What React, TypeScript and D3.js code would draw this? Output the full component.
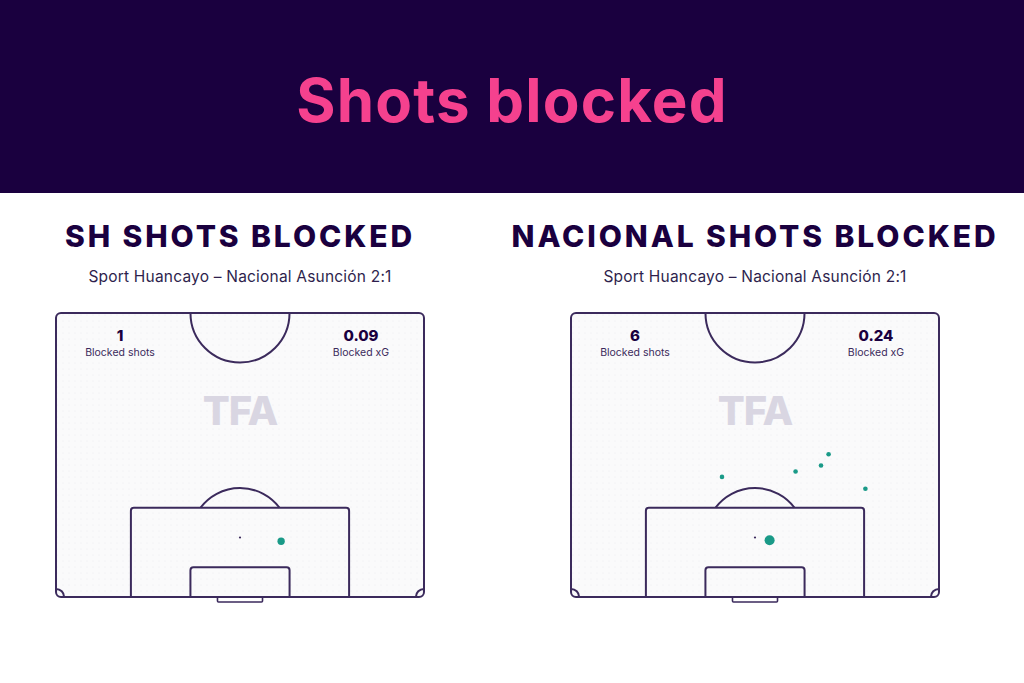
import React, { useEffect, useRef } from "react";
import * as d3 from "d3";

// pitch is a half pitch: 68m wide, 52.5m from halfway line to goal line
const PITCH_W = 68;
const PITCH_L = 52.5;

const teams = ["SH", "NACIONAL"];
const matchLabel = "Sport Huancayo – Nacional Asunción 2:1";
const blockedShots = [1, 6];
const blockedXG = ["0.09", "0.24"];

// shot locations: x across pitch (m), y distance from goal line (m), xg
const shotsSH = [{ x: 41.6, y: 10.3, xg: 0.09 }];
const shotsNAC = [
  { x: 27.9, y: 22.2, xg: 0.016 },
  { x: 41.5, y: 23.2, xg: 0.016 },
  { x: 46.2, y: 24.3, xg: 0.016 },
  { x: 47.6, y: 26.4, xg: 0.016 },
  { x: 54.4, y: 20.0, xg: 0.016 },
  { x: 36.7, y: 10.5, xg: 0.16 },
];
const shotSets = [shotsSH, shotsNAC];

const NAVY = "#1a003f";
const LINE = "#3b2a5c";
const TEAL = "#1a9a88";
const FONT = "Inter, 'Noto Sans', sans-serif";

export default function App() {
  const svgRef = useRef<SVGSVGElement>(null);

  useEffect(() => {
    const width = 1024;
    const height = 683;
    const svg = d3.select(svgRef.current);
    svg.selectAll("*").remove();
    svg.attr("viewBox", `0 0 ${width} ${height}`);

    const defs = svg.append("defs");
    const pat = defs
      .append("pattern")
      .attr("id", "dots")
      .attr("width", 6)
      .attr("height", 6)
      .attr("patternUnits", "userSpaceOnUse");
    pat.append("rect").attr("width", 6).attr("height", 6).attr("fill", "#fafafb");
    pat.append("circle").attr("cx", 3).attr("cy", 3).attr("r", 0.6).attr("fill", "#ececf0");

    svg.append("rect").attr("width", width).attr("height", height).attr("fill", "#ffffff");
    svg.append("rect").attr("width", width).attr("height", 193).attr("fill", NAVY);
    svg
      .append("text")
      .attr("x", width / 2)
      .attr("y", 122)
      .attr("text-anchor", "middle")
      .attr("font-family", FONT)
      .attr("font-weight", 700)
      .attr("font-size", 60)
      .attr("letter-spacing", 1.2)
      .attr("fill", "#f5418e")
      .text("Shots blocked");

    const pitchLeft = [56, 571];
    const pitchTop = 313;
    const pitchBottom = 597;
    const pxW = 368;

    teams.forEach((team, i) => {
      const x0 = pitchLeft[i];
      const cx = x0 + pxW / 2;
      const x = d3.scaleLinear().domain([0, PITCH_W]).range([x0, x0 + pxW]);
      const y = d3.scaleLinear().domain([0, PITCH_L]).range([pitchBottom, pitchTop]);
      const k = pxW / PITCH_W;
      const g = svg.append("g");

      g.append("text")
        .attr("x", cx)
        .attr("y", 247)
        .attr("text-anchor", "middle")
        .attr("font-family", FONT)
        .attr("font-weight", 800)
        .attr("font-size", 30)
        .attr("letter-spacing", 2.9)
        .attr("fill", NAVY)
        .text(`${team} SHOTS BLOCKED`);

      g.append("text")
        .attr("x", cx)
        .attr("y", 282)
        .attr("text-anchor", "middle")
        .attr("font-family", FONT)
        .attr("font-size", 15.5)
        .attr("letter-spacing", 0.2)
        .attr("fill", "#2e1f4d")
        .text(matchLabel);

      // clip for pitch
      const clipId = `clip${i}`;
      defs
        .append("clipPath")
        .attr("id", clipId)
        .append("rect")
        .attr("x", x(0))
        .attr("y", y(PITCH_L))
        .attr("width", x(PITCH_W) - x(0))
        .attr("height", y(0) - y(PITCH_L));

      g.append("rect")
        .attr("x", x(0))
        .attr("y", y(PITCH_L))
        .attr("width", x(PITCH_W) - x(0))
        .attr("height", y(0) - y(PITCH_L))
        .attr("rx", 5)
        .attr("fill", "url(#dots)");

      const lines = g
        .append("g")
        .attr("fill", "none")
        .attr("stroke", LINE)
        .attr("stroke-width", 2);

      // centre circle
      lines
        .append("circle")
        .attr("clip-path", `url(#${clipId})`)
        .attr("cx", x(PITCH_W / 2))
        .attr("cy", y(PITCH_L))
        .attr("r", 9.15 * k);

      // penalty arc
      const spotY = y(11);
      const boxTop = y(16.5);
      const dy = spotY - boxTop;
      const r = 9.15 * k;
      const dx = Math.sqrt(r * r - dy * dy);
      lines
        .append("path")
        .attr(
          "d",
          `M${x(PITCH_W / 2) - dx},${boxTop} A${r},${r} 0 0 1 ${x(PITCH_W / 2) + dx},${boxTop}`
        );

      // penalty box
      const pb0 = x(PITCH_W / 2 - 20.16);
      const pb1 = x(PITCH_W / 2 + 20.16);
      lines
        .append("path")
        .attr("d", `M${pb0},${y(0)} V${boxTop + 3} Q${pb0},${boxTop} ${pb0 + 3},${boxTop} H${pb1 - 3} Q${pb1},${boxTop} ${pb1},${boxTop + 3} V${y(0)}`);

      // six yard box
      const sb0 = x(PITCH_W / 2 - 9.16);
      const sb1 = x(PITCH_W / 2 + 9.16);
      const sTop = y(5.5);
      lines
        .append("path")
        .attr("d", `M${sb0},${y(0)} V${sTop + 3} Q${sb0},${sTop} ${sb0 + 3},${sTop} H${sb1 - 3} Q${sb1},${sTop} ${sb1},${sTop + 3} V${y(0)}`);

      // goal
      const g0 = x(PITCH_W / 2 - 3.66 - 0.5);
      const g1 = x(PITCH_W / 2 + 3.66 + 0.5);
      lines
        .append("path")
        .attr("stroke-width", 1.6)
        .attr("d", `M${g0},${y(0)} V${y(0) + 4} Q${g0},${y(0) + 5} ${g0 + 1},${y(0) + 5} H${g1 - 1} Q${g1},${y(0) + 5} ${g1},${y(0) + 4} V${y(0)}`);

      // corner arcs
      const cr = 1.5 * k;
      lines
        .append("path")
        .attr("d", `M${x(0)},${y(0) - cr} A${cr},${cr} 0 0 1 ${x(0) + cr},${y(0)}`);
      lines
        .append("path")
        .attr("d", `M${x(PITCH_W) - cr},${y(0)} A${cr},${cr} 0 0 1 ${x(PITCH_W)},${y(0) - cr}`);

      // outer boundary
      lines
        .append("rect")
        .attr("x", x(0))
        .attr("y", y(PITCH_L))
        .attr("width", x(PITCH_W) - x(0))
        .attr("height", y(0) - y(PITCH_L))
        .attr("rx", 5);

      // penalty spot
      g.append("circle")
        .attr("cx", x(PITCH_W / 2))
        .attr("cy", spotY)
        .attr("r", 1.1)
        .attr("fill", LINE);

      // watermark
      g.append("text")
        .attr("x", x(PITCH_W / 2))
        .attr("y", 425)
        .attr("text-anchor", "middle")
        .attr("font-family", FONT)
        .attr("font-weight", 800)
        .attr("font-size", 40)
        .attr("letter-spacing", -1)
        .attr("fill", "#d9d6e2")
        .text("TFA");

      // stats
      [
        { cxp: x0 + 64, val: String(blockedShots[i]), label: "Blocked shots" },
        { cxp: x0 + 305, val: blockedXG[i], label: "Blocked xG" },
      ].forEach((s) => {
        g.append("text")
          .attr("x", s.cxp)
          .attr("y", 341)
          .attr("text-anchor", "middle")
          .attr("font-family", FONT)
          .attr("font-weight", 800)
          .attr("font-size", 15)
          .attr("fill", NAVY)
          .text(s.val);
        g.append("text")
          .attr("x", s.cxp)
          .attr("y", 356)
          .attr("text-anchor", "middle")
          .attr("font-family", FONT)
          .attr("font-size", 10.5)
          .attr("fill", "#3b2a5c")
          .text(s.label);
      });

      // shots
      const rScale = d3.scaleLinear().domain([0, 0.16]).range([2, 5]);
      g.append("g")
        .selectAll("circle")
        .data(shotSets[i])
        .join("circle")
        .attr("cx", (d) => x(d.x))
        .attr("cy", (d) => y(d.y))
        .attr("r", (d) => rScale(d.xg))
        .attr("fill", TEAL);
    });
  }, []);

  return (
    <svg
      ref={svgRef}
      width={1024}
      height={683}
      style={{ position: "absolute", left: 0, top: 0, display: "block" }}
    ></svg>
  );
}
